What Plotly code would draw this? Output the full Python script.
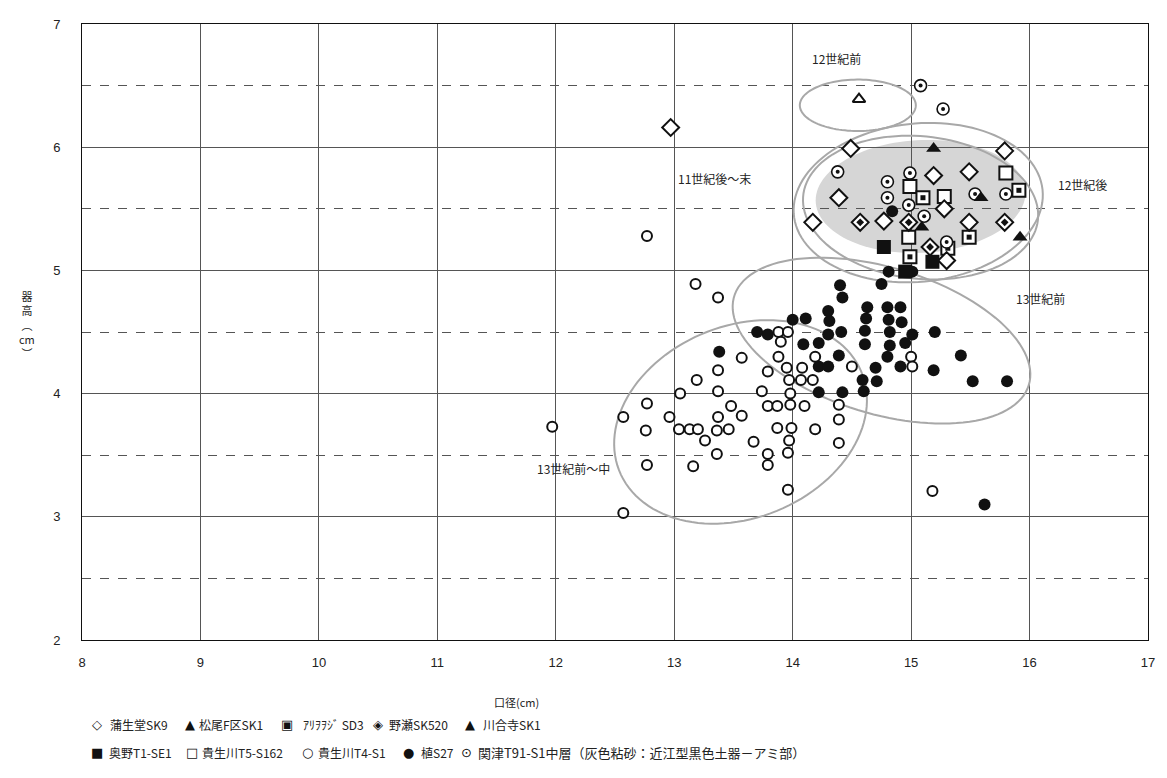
import numpy as np
import plotly.graph_objects as go

# ---------------- data ----------------
gamo_x = [12.97, 14.49, 15.79, 15.19, 15.49, 14.39, 15.28, 14.17, 14.77, 15.49, 15.30]
gamo_y = [6.16, 5.99, 5.97, 5.77, 5.80, 5.59, 5.50, 5.39, 5.40, 5.39, 5.08]

matsuo_x = [14.56]
matsuo_y = [6.39]

arioji_x = [15.10, 15.91, 15.49, 15.31, 14.99]
arioji_y = [5.59, 5.65, 5.27, 5.18, 5.11]

nose_x = [14.57, 14.98, 15.79, 15.16]
nose_y = [5.39, 5.39, 5.39, 5.19]

kawai_x = [15.19, 15.59, 15.09, 15.92]
kawai_y = [5.99, 5.59, 5.35, 5.27]

okuno_x = [14.77, 15.18, 14.95]
okuno_y = [5.19, 5.07, 4.99]

kibu5_x = [14.99, 15.28, 15.80, 14.98]
kibu5_y = [5.68, 5.60, 5.79, 5.27]

kibu4_x = [11.97, 12.77, 12.57, 13.18, 13.37, 13.88, 13.96, 13.90, 13.57, 13.88, 14.19,
           13.37, 13.79, 13.95, 14.08, 13.19, 13.97, 14.07, 14.17, 13.05, 13.37, 13.74,
           13.98, 12.77, 13.48, 13.79, 13.87, 13.98, 14.10, 14.39, 14.39, 14.39, 12.57,
           12.96, 13.37, 13.57, 12.76, 13.04, 13.13, 13.20, 13.36, 13.46, 13.26, 13.67,
           13.87, 13.99, 14.19, 13.97, 13.36, 13.79, 13.96, 12.77, 13.16, 13.79, 13.96,
           14.50, 15.00, 15.01, 15.18]
kibu4_y = [3.73, 5.28, 3.03, 4.89, 4.78, 4.50, 4.50, 4.42, 4.29, 4.30, 4.30,
           4.19, 4.18, 4.21, 4.21, 4.11, 4.11, 4.11, 4.11, 4.00, 4.02, 4.02,
           4.00, 3.92, 3.90, 3.90, 3.90, 3.91, 3.90, 3.91, 3.79, 3.60, 3.81,
           3.81, 3.81, 3.82, 3.70, 3.71, 3.71, 3.71, 3.70, 3.71, 3.62, 3.61,
           3.72, 3.72, 3.71, 3.62, 3.51, 3.51, 3.52, 3.42, 3.41, 3.42, 3.22,
           4.22, 4.30, 4.22, 3.21]

ue_x = [14.84, 14.81, 15.01, 14.40, 14.75, 14.42, 14.00, 14.11, 14.30, 14.31, 14.63,
        14.62, 14.80, 14.91, 14.81, 14.92, 14.30, 14.41, 14.61, 14.82, 15.01, 15.20,
        14.09, 14.22, 14.61, 14.82, 14.95, 14.39, 14.80, 14.22, 14.30, 14.70, 14.91,
        14.59, 14.71, 14.60, 14.22, 14.42, 13.70, 13.79, 13.38, 15.42, 15.19, 15.52,
        15.81, 15.62]
ue_y = [5.48, 4.99, 4.99, 4.88, 4.89, 4.78, 4.60, 4.61, 4.67, 4.59, 4.70,
        4.61, 4.70, 4.70, 4.60, 4.58, 4.48, 4.50, 4.51, 4.50, 4.48, 4.50,
        4.40, 4.41, 4.40, 4.39, 4.41, 4.31, 4.30, 4.22, 4.22, 4.21, 4.22,
        4.11, 4.10, 4.02, 4.01, 4.01, 4.50, 4.48, 4.34, 4.31, 4.19, 4.10,
        4.10, 3.10]

seki_x = [15.08, 15.27, 14.38, 14.80, 14.99, 14.80, 14.98, 15.11, 15.54, 15.80, 15.30]
seki_y = [6.50, 6.31, 5.80, 5.72, 5.79, 5.59, 5.53, 5.44, 5.62, 5.62, 5.23]

x_ticks = [8, 9, 10, 11, 12, 13, 14, 15, 16, 17]
y_ticks = [2, 3, 4, 5, 6, 7]

# ---------------- layout geometry ----------------
# page has an 8px body margin, so the figure is sized to fit the window
OFF = 8
W, H = 1167 - OFF, 778 - OFF
PL, PR, PT, PB = 82, 1148, 17, 640          # plot area in page pixels
ML, MT = PL - OFF, PT - OFF
MR, MB = W - (PR - OFF), H - (PB - OFF)
SX = (PR - PL) / 9.0   # px per x unit
SY = (PB - PT) / 5.0   # px per y unit

def fx(p):  # page px -> paper x
    return (p - PL) / (PR - PL)

def fy(p):  # page px -> paper y
    return (PB - p) / (PB - PT)

BLK = "#111111"
FONT_TICK = "Liberation Sans Narrow, Liberation Sans, Arial, sans-serif"
FONT_JP = "Noto Sans CJK JP, sans-serif"

fig = go.Figure()

def add(x, y, symbol, size, fill, lw=2, lc=BLK):
    fig.add_trace(go.Scatter(
        x=x, y=y, mode="markers", showlegend=False, hoverinfo="skip",
        marker=dict(symbol=symbol, size=size, color=fill,
                    line=dict(color=lc, width=lw))))

# lower cluster
add(kibu4_x, kibu4_y, "circle", 10, "white", 2)
add(ue_x, ue_y, "circle", 12, BLK, 0)
# upper cluster
add(kibu5_x, kibu5_y, "square", 13, "white", 2)
add(arioji_x, arioji_y, "square", 13, "white", 2)
add(arioji_x, arioji_y, "square", 5, BLK, 0)
add(seki_x, seki_y, "circle", 12, "white", 1.6)
add(seki_x, seki_y, "circle", 4, BLK, 0)
add(gamo_x, gamo_y, "diamond", 13, "white", 2)
add(nose_x, nose_y, "diamond", 13, "white", 2)
add(nose_x, nose_y, "diamond", 6, BLK, 0)
add(okuno_x, okuno_y, "square", 14, BLK, 0)
add(kawai_x, kawai_y, "triangle-up", 13, BLK, 0)
add(matsuo_x, matsuo_y, "triangle-up", 11, "white", 2)

# ---------------- ellipses (grouping outlines) ----------------
def ellipse_path(cx, cy, a_px, b_px, ang_deg, n=120):
    t = np.linspace(0, 2 * np.pi, n)
    th = np.deg2rad(ang_deg)
    dx = a_px * np.cos(t) * np.cos(th) - b_px * np.sin(t) * np.sin(th)
    dy = a_px * np.cos(t) * np.sin(th) + b_px * np.sin(t) * np.cos(th)
    xs = cx + dx / SX
    ys = cy - dy / SY
    p = "M %.4f,%.4f " % (xs[0], ys[0])
    p += " ".join("L %.4f,%.4f" % (a, b) for a, b in zip(xs[1:], ys[1:]))
    return p + " Z"

GRAY = "#a8a8a8"
fig.add_shape(type="path", path=ellipse_path(15.08, 5.60, 105, 57, -3),
              fillcolor="#d6d6d6", line=dict(width=0), layer="below")
for (cx, cy, a, b, ang) in [(14.55, 6.34, 58, 26, 0),
                            (15.06, 5.55, 125, 80, -6),
                            (15.08, 5.51, 118, 72, 6),
                            (14.75, 4.43, 154, 74, 17),
                            (13.56, 3.77, 131, 97, -23)]:
    fig.add_shape(type="path", path=ellipse_path(cx, cy, a, b, ang),
                  line=dict(color=GRAY, width=2), fillcolor="rgba(0,0,0,0)",
                  layer="between")

# ---------------- group labels ----------------
labels = [("12世紀前", 14.37, 6.72), ("11世紀後～末", 13.34, 5.75),
          ("12世紀後", 16.45, 5.70), ("13世紀前", 16.09, 4.77),
          ("13世紀前～中", 12.15, 3.39)]
for txt, lx, ly in labels:
    fig.add_annotation(x=lx, y=ly, xref="x", yref="y", text=txt, showarrow=False,
                       font=dict(family=FONT_JP, size=12, color="#222"))

# ---------------- axis titles ----------------
fig.add_annotation(x=fx(516), y=fy(703), xref="paper", yref="paper", text="口径(cm)",
                   showarrow=False, xanchor="center", yanchor="middle",
                   font=dict(family=FONT_JP, size=11, color="#222"))
fig.add_annotation(x=fx(27), y=fy(321), xref="paper", yref="paper",
                   text="器<br>高<br>︵<br>cm<br>︶", showarrow=False,
                   xanchor="center", yanchor="middle",
                   font=dict(family=FONT_JP, size=11, color="#222"))

# ---------------- legend (text) ----------------
legend_items = [
    ("◇", "蒲生堂SK9", 97, 108, 725, 12), ("▲", "松尾F区SK1", 190, 197, 725, 12),
    ("▣", "ｱﾘｦｦｼﾞ SD3", 287, 301, 725, 12), ("◈", "野瀬SK520", 378, 387, 725, 12),
    ("▲", "川合寺SK1", 470, 481, 725, 12),
    ("■", "奥野T1-SE1", 97, 107, 754, 12), ("□", "貴生川T5-S162", 192, 200, 754, 12),
    ("○", "貴生川T4-S1", 307, 316, 754, 12), ("●", "植S27", 408, 419, 754, 12),
    ("⊙", "関津T91-S1中層（灰色粘砂：近江型黒色土器－アミ部）", 466, 476, 754, 13),
]
for sym, txt, sx, tx, yy, fs in legend_items:
    fig.add_annotation(x=fx(sx), y=fy(yy), xref="paper", yref="paper", text=sym,
                       showarrow=False, xanchor="center", yanchor="middle",
                       font=dict(family="DejaVu Sans, sans-serif", size=13, color=BLK))
    fig.add_annotation(x=fx(tx), y=fy(yy), xref="paper", yref="paper", text=txt,
                       showarrow=False, xanchor="left", yanchor="middle",
                       font=dict(family=FONT_JP, size=fs, color="#222"))

fig.update_layout(
    width=W, height=H,
    margin=dict(l=ML, r=MR, t=MT, b=MB, pad=0),
    paper_bgcolor="white", plot_bgcolor="white",
    showlegend=False,
    xaxis=dict(range=[8, 17], tickvals=x_ticks, ticktext=[str(v) for v in x_ticks],
               showgrid=True, gridcolor="#555555", gridwidth=1,
               showline=True, linecolor=BLK, linewidth=1, mirror=True,
               zeroline=False, ticks="", ticklabelstandoff=10,
               tickfont=dict(family=FONT_TICK, size=13, color="#222")),
    yaxis=dict(range=[2, 7], tickvals=y_ticks, ticktext=[str(v) for v in y_ticks],
               showgrid=True, gridcolor="#555555", gridwidth=1,
               showline=True, linecolor=BLK, linewidth=1, mirror=True,
               zeroline=False, ticks="", ticklabelstandoff=18,
               minor=dict(dtick=0.5, showgrid=True, gridcolor="#555555",
                          griddash="dash", gridwidth=1),
               tickfont=dict(family=FONT_TICK, size=13, color="#222")),
)

fig.write_html("out.html")
